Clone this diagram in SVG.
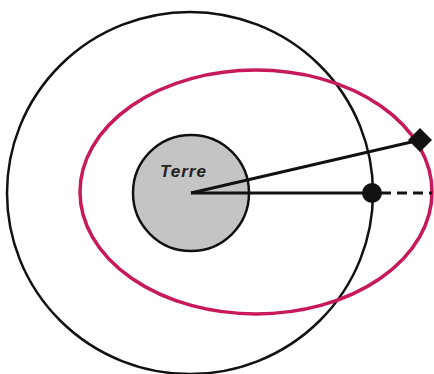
<svg xmlns="http://www.w3.org/2000/svg" width="434" height="374" viewBox="0 0 434 374">
<style>
.orb{fill:none;stroke:#111;stroke-width:2.5}
.red{fill:none;stroke:#c8195a;stroke-width:3.5}
.ln{stroke:#111;stroke-width:3;fill:none}
.lbl{font-family:"Liberation Sans",Arial,sans-serif;font-size:17px;font-style:italic;font-weight:bold;fill:#222;letter-spacing:1px}
</style>
<rect width="434" height="374" fill="#fff"/>
<g id="orbit-circle"><ellipse class="orb" cx="190" cy="193" rx="183" ry="181"/></g>
<g id="orbit-ellipse"><ellipse class="red" cx="256" cy="192" rx="176" ry="122"/></g>
<g id="earth">
<circle cx="191" cy="193" r="58" fill="#c4c4c4" stroke="#111" stroke-width="2.5"/>
<text class="lbl" x="160" y="177">Terre</text>
</g>
<g id="connectors">
<line class="ln" x1="191" y1="193" x2="420" y2="140"/>
<line class="ln" x1="191" y1="193" x2="372" y2="193"/>
<line class="ln" x1="381" y1="193" x2="432" y2="193" stroke-dasharray="10,6"/>
</g>
<g id="satellite-diamond"><rect x="411.5" y="131.5" width="17" height="17" fill="#111" transform="rotate(45 420 140)"/></g>
<g id="satellite-dot"><circle cx="372" cy="193" r="10" fill="#111"/></g>
</svg>
